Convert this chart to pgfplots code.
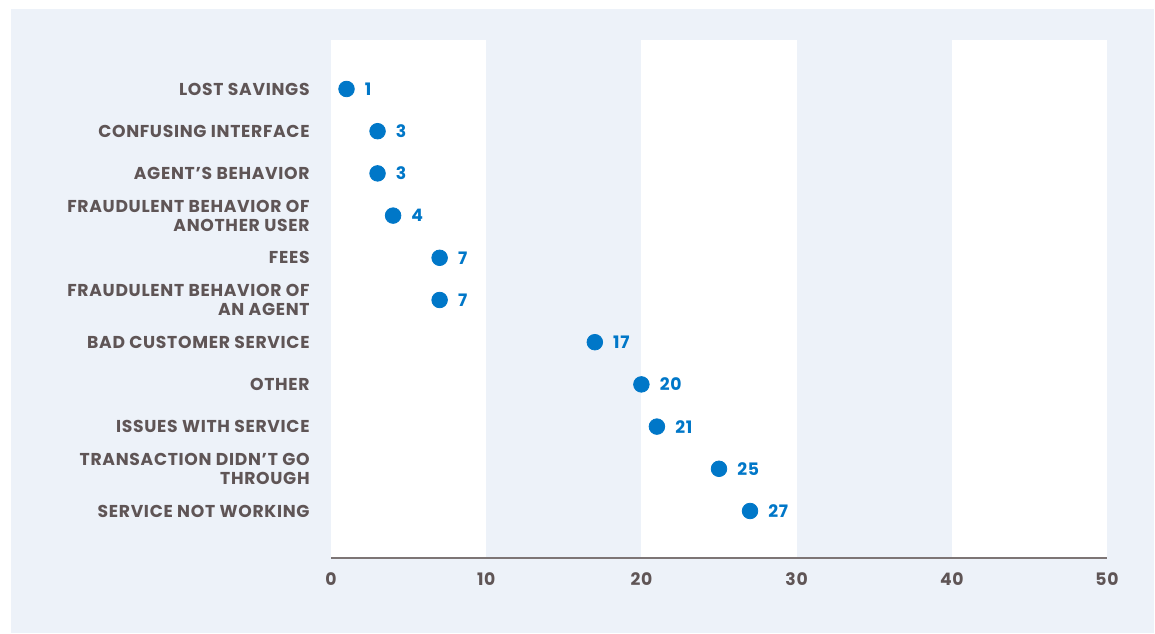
\documentclass[border=0pt]{standalone}
\usepackage{pgfplots}
\pgfplotsset{compat=1.18}
\usepackage{fontspec}
\setmainfont{Poppins}[LetterSpace=4]
\definecolor{bgc}{HTML}{EDF2F9}
\definecolor{dotc}{HTML}{0077C8}
\definecolor{txtc}{HTML}{5F5556}
\definecolor{axc}{HTML}{7D7575}
\begin{document}
\begin{tikzpicture}
  % page, panel and white bands (1 px of the reference = 0.5pt)
  \begin{scope}[x=0.5pt,y=0.5pt]
    \fill[white] (0,0) rectangle (1155,633);
    \fill[bgc] (11,0) rectangle (1154,624);
    \fill[white] (331,75) rectangle (486.2,593);
    \fill[white] (641.4,75) rectangle (796.6,593);
    \fill[white] (951.8,75) rectangle (1107,593);
  \end{scope}
  \begin{axis}[
    at={(165.5pt,37.5pt)}, anchor=south west,
    scale only axis, width=388pt, height=259pt,
    xmin=0, xmax=50, ymin=-1.114, ymax=11.161,
    xtick={0,10,20,30,40,50},
    ytick={0,...,10},
    yticklabels={SERVICE NOT WORKING, {TRANSACTION DIDN’T GO\\THROUGH}, ISSUES WITH SERVICE, OTHER, BAD CUSTOMER SERVICE, {FRAUDULENT BEHAVIOR OF\\AN AGENT}, FEES, {FRAUDULENT BEHAVIOR OF\\ANOTHER USER}, AGENT’S BEHAVIOR, CONFUSING INTERFACE, LOST SAVINGS},
    major tick length=0,
    axis x line*=bottom, axis y line*=left,
    x axis line style={-, draw=axc, line width=0.8pt},
    y axis line style={draw=none},
    /pgf/number format/assume math mode=true,
    yticklabel style={anchor=east, inner sep=0pt, xshift=-10.5pt, align=right,
      font=\fontsize{8.6}{9.5}\selectfont\bfseries, text=txtc},
    xticklabel style={anchor=north, inner sep=0pt, yshift=-7pt,
      font=\fontsize{8.6}{9.5}\selectfont\bfseries, text=txtc},
    clip=false,
  ]
    \addplot[only marks, color=dotc, mark=*, mark size=3.9pt,
      mark options={draw=dotc, fill=dotc},
      nodes near coords, point meta=explicit symbolic,
      nodes near coords style={anchor=west, inner sep=0pt, xshift=9pt, text=dotc,
        font=\fontsize{8.6}{9.5}\selectfont\bfseries}]
    table[meta=label] {
      x  y  label
      27 0  27
      25 1  25
      21 2  21
      20 3  20
      17 4  17
      7  5  7
      7  6  7
      4  7  4
      3  8  3
      3  9  3
      1  10 1
    };
  \end{axis}
\end{tikzpicture}
\end{document}
